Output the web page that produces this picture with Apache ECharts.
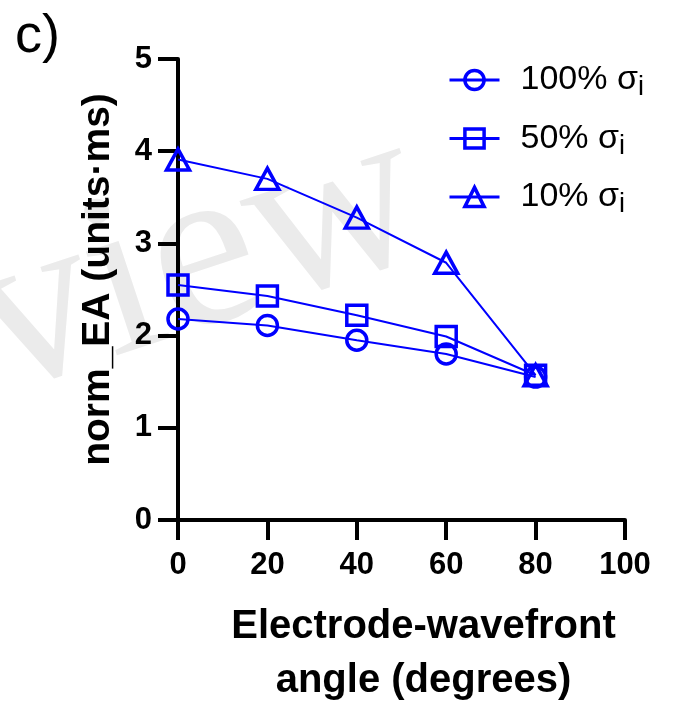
<!DOCTYPE html>
<html>
<head>
<meta charset="utf-8">
<script src="https://cdn.jsdelivr.net/npm/echarts@6/dist/echarts.min.js"></script>
<style>html,body{margin:0;padding:0;background:#fff}#c{width:681px;height:706px}</style>
</head>
<body>
<div id="c"></div>
<script>
const angles = [0, 20, 40, 60, 80];
const s100 = [2.18, 2.11, 1.95, 1.80, 1.55];
const s50 = [2.55, 2.43, 2.22, 1.99, 1.57];
const s10 = [3.91, 3.70, 3.28, 2.79, 1.57];
const seriesNames = ['100% σ{sub|i}', '50% σ{sub|i}', '10% σ{sub|i}'];
const yTicks = [0, 1, 2, 3, 4, 5];
const xTicks = [0, 20, 40, 60, 80, 100];

const blue = '#0000ff';
const font = 'Liberation Sans, Arial, sans-serif';

function mk(name, vals, symbol, size) {
  return {
    name: name,
    type: 'line',
    data: angles.map((a, i) => [a, vals[i]]),
    symbol: symbol,
    symbolSize: size,
    showSymbol: true,
    lineStyle: { color: blue, width: 2 },
    itemStyle: { color: 'rgba(255,255,255,0)', borderColor: blue, borderWidth: 3.5 },
    emphasis: { disabled: true },
    animation: false
  };
}

const chart = echarts.init(document.getElementById('c'), null, { renderer: 'canvas' });
chart.setOption({
  backgroundColor: '#fff',
  animation: false,
  graphic: [
    { type: 'text', left: 15, top: 10, z: 10,
      style: { text: 'c)', font: '54px ' + font, fill: '#000' } },
    { type: 'text', x: 378, y: 80, rotation: 0.32, z: -10, silent: true,
      style: { text: 'Preview', font: '235px Liberation Serif, serif', fill: '#ebebeb',
               align: 'right', verticalAlign: 'top' } }
  ],
  grid: { left: 178, right: 56, top: 59, bottom: 186, containLabel: false, outerBoundsMode: 'none' },
  legend: {
    orient: 'vertical',
    left: 443,
    top: 58,
    itemGap: 20,
    itemWidth: 50,
    itemHeight: 24,
    data: seriesNames,
    lineStyle: { width: 3 },
    itemStyle: { borderWidth: 3.5 },
    textStyle: {
      fontFamily: font, fontSize: 34, color: '#000', padding: [0, 0, 0, 16],
      rich: { sub: { fontFamily: font, fontSize: 27, color: '#000', padding: [16, 0, 0, 0] } }
    }
  },
  xAxis: {
    type: 'value', min: 0, max: 100, interval: 20,
    name: 'Electrode-wavefront\nangle (degrees)',
    nameLocation: 'middle', nameGap: 80,
    nameTextStyle: { fontFamily: font, fontSize: 40, fontWeight: 'bold', color: '#000', lineHeight: 54, padding: [0, 0, 0, 44] },
    axisLine: { lineStyle: { color: '#000', width: 4 } },
    axisTick: { show: true, length: 20, lineStyle: { color: '#000', width: 4 } },
    axisLabel: { fontFamily: font, fontSize: 31, fontWeight: 'bold', color: '#000', margin: 30,
      formatter: v => xTicks.includes(v) ? String(v) : '' },
    splitLine: { show: false }
  },
  yAxis: {
    type: 'value', min: 0, max: 5, interval: 1,
    name: 'norm_EA (units·ms)',
    nameLocation: 'middle', nameGap: 60, nameRotate: 90,
    nameTextStyle: { fontFamily: font, fontSize: 39, fontWeight: 'bold', color: '#000', padding: [0, 0, 0, 20] },
    axisLine: { show: true, lineStyle: { color: '#000', width: 4 } },
    axisTick: { show: true, length: 20, lineStyle: { color: '#000', width: 4 } },
    axisLabel: { fontFamily: font, fontSize: 31, fontWeight: 'bold', color: '#000', margin: 26,
      formatter: v => yTicks.includes(v) ? String(v) : '' },
    splitLine: { show: false }
  },
  series: [
    mk(seriesNames[0], s100, 'circle', 20),
    mk(seriesNames[1], s50, 'rect', 20),
    mk(seriesNames[2], s10, 'triangle', [23, 21])
  ]
});
</script>
</body>
</html>
